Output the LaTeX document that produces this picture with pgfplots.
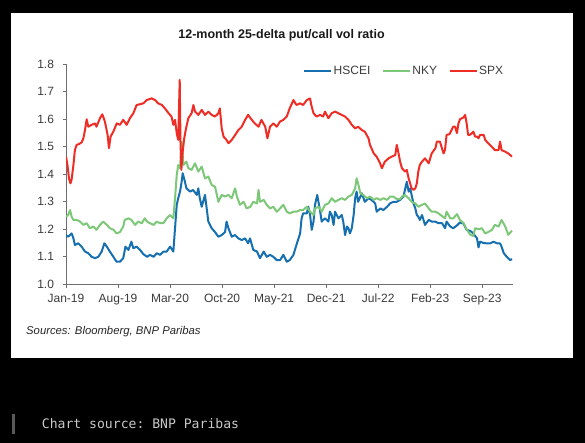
\documentclass[border=0pt]{standalone}
\usepackage{fontspec}
\setmainfont{Liberation Sans}
\setmonofont{DejaVu Sans Mono}
\usepackage{pgfplots}
\pgfplotsset{compat=1.18}
\definecolor{hscei}{RGB}{22,112,176}
\definecolor{nky}{RGB}{125,200,120}
\definecolor{spx}{RGB}{238,45,38}
\definecolor{axgray}{RGB}{110,110,110}
\definecolor{labgray}{RGB}{60,60,60}
\definecolor{srcgray}{RGB}{200,200,200}
\begin{document}
\begin{tikzpicture}[x=1pt,y=1pt]
\fill[black] (0,0) rectangle (585,443);
\fill[white] (11,84.7) rectangle (573,430);
\begin{axis}[
  at={(66pt,158.7pt)}, anchor=south west,
  scale only axis, width=446.7pt, height=220pt,
  xmin=0, xmax=60.1, ymin=1.0, ymax=1.8,
  axis x line*=bottom, axis y line*=left,
  axis line style={axgray, line width=0.8pt},
  tick style={axgray, line width=0.8pt}, tick align=outside, major tick length=3.5pt,
  xtick={0,7,14,21,28,35,42,49,56},
  xticklabels={Jan-19,Aug-19,Mar-20,Oct-20,May-21,Dec-21,Jul-22,Feb-23,Sep-23},
  ytick={1,1.1,1.2,1.3,1.4,1.5,1.6,1.7,1.8},
  ticklabel style={font=\fontsize{12}{14}\selectfont, text=labgray},
  xticklabel style={yshift=-2.5pt},
  yticklabel style={xshift=-5pt, /pgf/number format/.cd, fixed, fixed zerofill, precision=1},
  /pgf/number format/assume math mode=true,
  legend style={at={(rel axis cs:0.5306,0.971)}, anchor=west, draw=none, fill=none,
    inner sep=0pt, font=\fontsize{12}{14}\selectfont, text=labgray,
    nodes={inner sep=1.5pt},
    /tikz/every even column/.append style={column sep=10pt}},
  legend columns=-1,
  legend image code/.code={\draw[#1] (0pt,0pt) -- (27pt,0pt);},
  every axis plot/.append style={line width=2pt, line join=round},
]
\addplot[hscei] coordinates {
(0,1.179) (0.3,1.173) (0.76,1.185) (1.0,1.167) (1.2,1.143) (1.66,1.149) (2.1,1.137) (2.55,1.119) (3.0,1.113) (3.45,1.10) (3.9,1.095) (4.35,1.10) (4.8,1.119) (5.16,1.149) (5.5,1.137) (5.9,1.119) (6.37,1.10) (6.8,1.082) (7.26,1.082) (7.7,1.095) (8.0,1.137) (8.4,1.125) (8.8,1.155) (9.06,1.131) (9.5,1.137) (9.96,1.125) (10.4,1.11) (10.9,1.10) (11.3,1.107) (11.8,1.10) (12.2,1.113) (12.65,1.107) (13.1,1.119) (13.55,1.119) (14.0,1.137) (14.44,1.119) (14.67,1.204) (14.9,1.289) (15.1,1.313) (15.34,1.337) (15.56,1.373) (15.7,1.404) (16.0,1.373) (16.2,1.349) (16.7,1.337) (17.1,1.343) (17.6,1.325) (17.8,1.349) (18.0,1.313) (18.26,1.282) (18.7,1.325) (18.9,1.282) (19.15,1.228) (19.6,1.204) (20.05,1.19) (20.5,1.173) (20.95,1.179) (21.4,1.19) (21.6,1.228) (21.85,1.204) (22.3,1.173) (22.75,1.179) (23.2,1.167) (23.64,1.161) (24.1,1.167) (24.5,1.149) (24.76,1.167) (25.2,1.125) (25.7,1.119) (26.1,1.095) (26.6,1.119) (27.0,1.10) (27.45,1.107) (27.9,1.10) (28.35,1.088) (28.8,1.088) (29.25,1.107) (29.7,1.082) (30.1,1.088) (30.6,1.107) (31.0,1.143) (31.5,1.185) (31.7,1.24) (31.9,1.258) (32.4,1.258) (32.6,1.282) (32.84,1.252) (33.06,1.198) (33.3,1.228) (33.5,1.289) (33.8,1.325) (34.2,1.264) (34.4,1.228) (34.85,1.24) (35.3,1.228) (35.5,1.264) (35.75,1.252) (36.0,1.216) (36.2,1.264) (36.65,1.24) (37.1,1.252) (37.3,1.228) (37.55,1.179) (37.8,1.21) (38.0,1.204) (38.2,1.185) (38.45,1.204) (38.7,1.252) (38.9,1.313) (39.1,1.337) (39.3,1.30) (39.8,1.331) (40.2,1.30) (40.7,1.313) (41.1,1.307) (41.6,1.294) (41.8,1.264) (42.3,1.276) (42.7,1.27) (43.2,1.282) (43.6,1.294) (44.05,1.30) (44.5,1.30) (44.95,1.307) (45.4,1.319) (45.85,1.373) (46.1,1.337) (46.3,1.349) (46.5,1.325) (46.75,1.294) (47.0,1.276) (47.2,1.252) (47.4,1.246) (47.6,1.234) (47.9,1.252) (48.3,1.216) (48.8,1.234) (49.2,1.228) (49.7,1.228) (50.1,1.222) (50.6,1.222) (51.0,1.204) (51.2,1.228) (51.7,1.21) (52.1,1.204) (52.6,1.214) (53.0,1.225) (53.5,1.22) (53.9,1.198) (54.4,1.194) (54.8,1.185) (55.3,1.167) (55.5,1.134) (55.7,1.155) (56.2,1.15) (56.6,1.149) (57.1,1.149) (57.5,1.155) (58.0,1.149) (58.4,1.149) (58.6,1.137) (58.9,1.113) (59.3,1.10) (59.76,1.088) (60.0,1.092)
};
\addlegendentry{HSCEI}
\addplot[nky] coordinates {
(0,1.246) (0.3,1.252) (0.54,1.27) (0.76,1.246) (1.0,1.234) (1.43,1.234) (1.9,1.228) (2.33,1.216) (2.78,1.222) (3.2,1.204) (3.7,1.21) (4.1,1.198) (4.57,1.216) (5.0,1.228) (5.5,1.216) (5.9,1.204) (6.4,1.198) (6.8,1.185) (7.26,1.19) (7.7,1.21) (7.9,1.234) (8.4,1.24) (8.8,1.234) (9.3,1.216) (9.7,1.228) (10.2,1.222) (10.6,1.24) (10.9,1.228) (11.3,1.222) (11.8,1.216) (12.2,1.228) (12.65,1.222) (13.1,1.222) (13.55,1.24) (14.0,1.252) (14.44,1.24) (14.67,1.313) (14.9,1.398) (15.1,1.434) (15.34,1.422) (15.56,1.519) (15.8,1.434) (16.2,1.446) (16.46,1.422) (16.9,1.416) (17.36,1.44) (17.8,1.41) (18.26,1.428) (18.7,1.385) (19.15,1.392) (19.6,1.361) (20.05,1.355) (20.5,1.30) (20.95,1.325) (21.4,1.319) (21.85,1.325) (22.3,1.313) (22.75,1.349) (23.0,1.319) (23.4,1.289) (23.9,1.30) (24.3,1.276) (24.8,1.282) (25.2,1.30) (25.7,1.294) (25.9,1.343) (26.1,1.30) (26.6,1.307) (27.0,1.289) (27.45,1.276) (27.9,1.282) (28.35,1.264) (28.8,1.276) (29.25,1.289) (29.7,1.264) (30.1,1.258) (30.6,1.264) (31.0,1.264) (31.5,1.27) (31.9,1.27) (32.4,1.282) (32.84,1.264) (33.3,1.252) (33.5,1.276) (34.0,1.282) (34.4,1.264) (34.85,1.289) (35.3,1.294) (35.75,1.313) (36.2,1.30) (36.65,1.307) (37.1,1.313) (37.55,1.307) (38.0,1.319) (38.45,1.325) (38.9,1.349) (39.1,1.385) (39.3,1.367) (39.6,1.331) (40.0,1.325) (40.5,1.313) (40.9,1.319) (41.4,1.307) (41.8,1.313) (42.3,1.307) (42.7,1.313) (43.2,1.307) (43.6,1.319) (44.05,1.319) (44.5,1.31) (44.95,1.31) (45.2,1.319) (45.6,1.325) (46.1,1.313) (46.5,1.30) (47.0,1.294) (47.4,1.282) (47.9,1.289) (48.3,1.294) (48.8,1.276) (49.2,1.264) (49.7,1.264) (50.1,1.258) (50.6,1.248) (51.0,1.24) (51.2,1.264) (51.7,1.24) (52.1,1.24) (52.6,1.255) (53.0,1.234) (53.5,1.222) (53.9,1.20) (54.4,1.18) (54.8,1.176) (55.05,1.204) (55.5,1.20) (55.95,1.204) (56.4,1.185) (56.8,1.19) (57.3,1.198) (57.7,1.216) (58.2,1.21) (58.6,1.234) (59.1,1.21) (59.5,1.18) (60.0,1.195)
};
\addlegendentry{NKY}
\addplot[spx] coordinates {
(0,1.464) (0.2,1.434) (0.4,1.385) (0.6,1.367) (0.75,1.38) (1.0,1.434) (1.2,1.488) (1.43,1.507) (1.75,1.51) (2.1,1.516) (2.33,1.53) (2.55,1.56) (2.78,1.60) (3.0,1.573) (3.45,1.58) (3.9,1.585) (4.1,1.573) (4.57,1.604) (4.89,1.618) (5.25,1.59) (5.6,1.543) (5.78,1.495) (6.0,1.537) (6.37,1.555) (6.82,1.585) (7.26,1.58) (7.7,1.598) (8.16,1.58) (8.6,1.604) (9.06,1.622) (9.5,1.652) (9.96,1.655) (10.4,1.658) (10.86,1.67) (11.53,1.676) (11.98,1.67) (12.4,1.658) (12.9,1.652) (13.3,1.64) (13.8,1.622) (14.2,1.61) (14.44,1.58) (14.67,1.598) (14.9,1.549) (15.1,1.525) (15.3,1.743) (15.4,1.52) (15.52,1.416) (15.7,1.482) (15.9,1.53) (16.15,1.567) (16.46,1.604) (16.9,1.622) (17.14,1.652) (17.36,1.628) (17.8,1.616) (18.26,1.634) (18.7,1.616) (19.15,1.628) (19.6,1.616) (20.05,1.61) (20.5,1.622) (20.7,1.64) (20.95,1.567) (21.2,1.537) (21.6,1.525) (21.85,1.513) (22.3,1.525) (22.75,1.543) (23.2,1.561) (23.64,1.573) (24.1,1.598) (24.5,1.616) (25.0,1.598) (25.4,1.585) (25.9,1.573) (26.3,1.598) (26.8,1.573) (27.1,1.531) (27.45,1.573) (27.9,1.585) (28.35,1.573) (28.8,1.592) (29.25,1.598) (29.7,1.61) (30.1,1.64) (30.6,1.67) (31.0,1.652) (31.5,1.658) (31.9,1.652) (32.4,1.67) (32.84,1.676) (33.0,1.652) (33.3,1.622) (33.7,1.61) (34.2,1.616) (34.6,1.61) (34.85,1.628) (35.3,1.604) (35.75,1.622) (36.2,1.628) (36.65,1.622) (37.1,1.616) (37.55,1.61) (38.0,1.598) (38.45,1.58) (38.9,1.567) (39.3,1.573) (39.8,1.561) (40.2,1.555) (40.7,1.531) (40.9,1.507) (41.4,1.476) (41.8,1.464) (42.26,1.44) (42.5,1.422) (42.9,1.446) (43.4,1.458) (43.8,1.464) (44.3,1.47) (44.5,1.507) (44.7,1.482) (44.95,1.446) (45.2,1.422) (45.6,1.41) (45.85,1.416) (46.1,1.385) (46.3,1.367) (46.5,1.349) (46.75,1.343) (47.0,1.349) (47.2,1.367) (47.4,1.41) (47.6,1.434) (47.9,1.446) (48.3,1.458) (48.8,1.44) (49.2,1.476) (49.7,1.495) (49.9,1.519) (50.3,1.519) (50.8,1.476) (51.0,1.49) (51.2,1.543) (51.6,1.546) (52.1,1.573) (52.35,1.573) (52.6,1.55) (52.8,1.585) (53.0,1.60) (53.5,1.607) (53.7,1.616) (53.9,1.586) (54.1,1.543) (54.3,1.543) (54.6,1.549) (54.8,1.555) (55.05,1.537) (55.3,1.537) (55.5,1.531) (55.7,1.543) (55.95,1.543) (56.2,1.543) (56.4,1.525) (56.8,1.513) (57.3,1.50) (57.7,1.488) (58.2,1.488) (58.4,1.519) (58.6,1.488) (59.1,1.482) (59.5,1.476) (59.76,1.47) (60.0,1.464)
};
\addlegendentry{SPX}
\end{axis}
\node[text=black!90] at (281.5,408) {\fontsize{12.5}{15}\selectfont\bfseries 12-month 25-delta put/call vol ratio};
\node[anchor=west, inner sep=0pt, text=black!85] at (26,111.3) {\fontsize{11.3}{13}\selectfont\itshape Sources: Bloomberg, BNP Paribas};
\fill[black!65] (11.7,9) rectangle (15,29);
\node[anchor=west, inner sep=0pt, text=srcgray] at (41.7,19.7) {\ttfamily\fontsize{13.1}{15}\selectfont Chart source: BNP Paribas};
\end{tikzpicture}
\end{document}
